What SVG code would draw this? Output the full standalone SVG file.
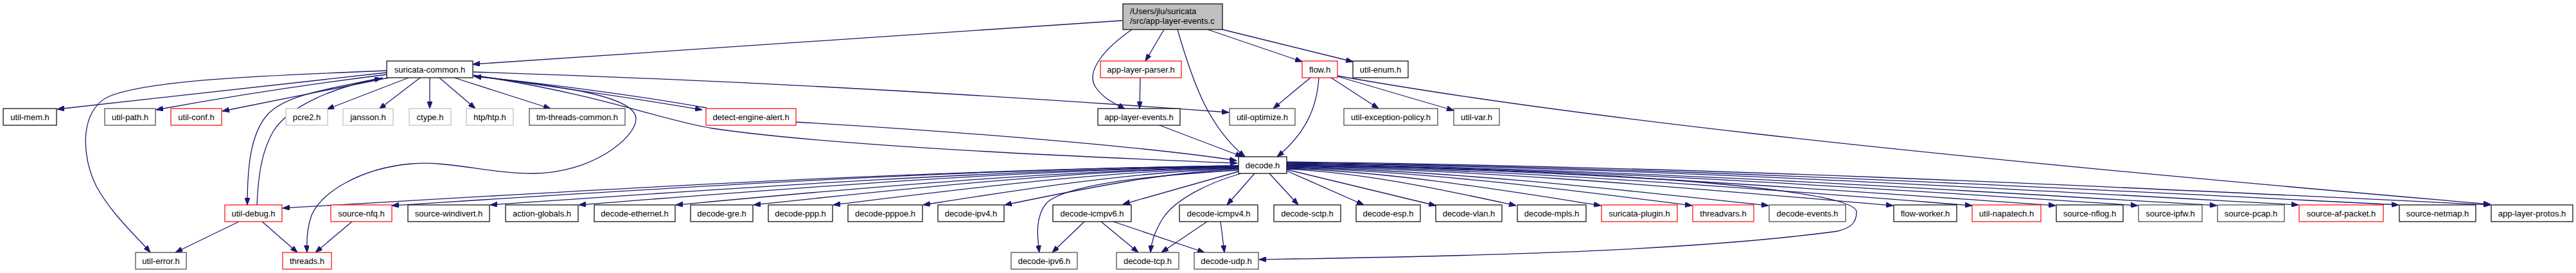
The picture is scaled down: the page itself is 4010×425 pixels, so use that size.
<svg xmlns="http://www.w3.org/2000/svg" width="4010" height="425" viewBox="0 0 4010 425">
<style>
rect{fill:#ffffff;stroke:#000000;stroke-width:1.2}
.r rect{stroke:#ff0000}
.g rect{stroke:#bfbfbf}
.d rect{stroke:#404040}
.m rect{fill:#bfbfbf}
text{font-family:"Liberation Sans",Arial,Helvetica,sans-serif;font-size:13px;fill:#000000;text-anchor:middle}
.m text{text-anchor:start}
#edges path{fill:none;stroke:#191970;stroke-width:1.3;marker-end:url(#a)}
</style>
<defs>
<marker id="a" markerWidth="11" markerHeight="8" refX="11" refY="4" orient="auto" markerUnits="userSpaceOnUse"><path d="M0,0 L11,4 L0,8 z" fill="#191970" stroke="#191970" stroke-width="1"/></marker>
</defs>
<rect x="0" y="0" width="4010" height="425" style="fill:#ffffff;stroke:none"/>
<g id="edges">
<path d="M1747,32 L736,100"/>
<path d="M1812,46 L1783,95"/>
<path d="M1762,46 C1720,75 1690,110 1705,135 C1718,155 1740,163 1751,170"/>
<path d="M1833,46 C1860,140 1885,200 1938,244"/>
<path d="M1880,46 L2027,96"/>
<path d="M1903,46 L2106,96"/>
<path d="M1775,121 L1774,169"/>
<path d="M1805,195 L1934,244"/>
<path d="M2040,121 L1982,169"/>
<path d="M2053,121 C2050,170 2030,210 1988,244"/>
<path d="M2072,121 L2146,169"/>
<path d="M2082,119 L2263,172"/>
<path d="M2082,118 C2400,175 2900,235 3877,318"/>
<path d="M1239,190 C1500,205 1800,230 1925,250"/>
<path d="M737,117 C950,150 1020,185 1110,200 C1300,228 1700,245 1926,254"/>
<path d="M737,112 Q1300,130 1913,175"/>
<path d="M737,118 C900,140 1000,155 1093,171"/>
<path d="M1100,168 C1000,150 850,130 738,119"/>
<path d="M737,118 C880,135 990,150 990,185 C990,215 920,270 830,270 C760,270 700,250 640,255 C560,262 500,300 485,335 C478,355 477,375 478,393"/>
<path d="M602,113 L89,170"/>
<path d="M602,110 C400,118 230,125 170,150 C125,170 125,240 150,290 C175,335 210,365 234,393"/>
<path d="M602,116 C450,135 330,155 243,171"/>
<path d="M605,121 L346,173"/>
<path d="M636,121 L509,170"/>
<path d="M654,121 L590,170"/>
<path d="M669,121 L669,169"/>
<path d="M684,121 L740,169"/>
<path d="M707,121 L857,169"/>
<path d="M596,121 C500,140 440,150 415,180 C390,210 385,260 385,319"/>
<path d="M400,319 C402,270 408,235 425,205 C450,165 520,135 594,122"/>
<path d="M372,345 L273,393"/>
<path d="M408,345 L463,393"/>
<path d="M548,345 L491,393"/>
<path d="M1928,258 C1407,265 886,298 440,324"/>
<path d="M1928,258 C1467,264 1005,295 610,320"/>
<path d="M1928,259 C1520,265 1113,295 763,319"/>
<path d="M1928,259 C1569,265 1209,295 901,319"/>
<path d="M1928,260 C1621,266 1315,295 1052,319"/>
<path d="M1928,260 C1664,266 1399,295 1173,319"/>
<path d="M1928,261 C1707,267 1486,296 1297,319"/>
<path d="M1928,262 C1756,268 1584,296 1437,319"/>
<path d="M1928,263 C1801,269 1673,297 1564,319"/>
<path d="M1928,267 L1748,318"/>
<path d="M1953,270 L1910,319"/>
<path d="M1976,270 L2021,319"/>
<path d="M1928,265 C1760,275 1660,290 1630,315 C1612,335 1614,365 1618,393"/>
<path d="M1932,270 C1880,285 1830,310 1810,340 C1795,365 1792,380 1791,393"/>
<path d="M1688,345 L1638,393"/>
<path d="M1714,345 L1772,393"/>
<path d="M1733,345 L1875,393"/>
<path d="M1879,345 L1808,393"/>
<path d="M1900,345 L1906,393"/>
<path d="M2003,266 L2123,319"/>
<path d="M2003,264 L2235,320"/>
<path d="M2003,263 C2128,269 2253,297 2360,320"/>
<path d="M2003,262 C2174,268 2345,297 2492,320"/>
<path d="M2003,261 C2224,267 2445,296 2634,320"/>
<path d="M2003,260 C2266,266 2528,296 2753,320"/>
<path d="M2003,259 C2333,265 2664,296 2947,320"/>
<path d="M2003,258 C2376,264 2750,295 3070,320"/>
<path d="M2003,257 C2422,263 2841,295 3200,320"/>
<path d="M2003,256 C2467,262 2931,294 3328,320"/>
<path d="M2003,255 C2510,262 3017,294 3451,320"/>
<path d="M2003,254 C2554,260 3106,293 3578,319"/>
<path d="M2003,253 C2609,260 3215,293 3734,319"/>
<path d="M2003,252 C2659,259 3315,292 3877,319"/>
<path d="M2003,258 C2400,260 2890,290 2890,330 C2890,348 2880,355 2860,360 C2600,395 2200,400 1960,404"/>
</g>
<g id="n_main" class="m"><rect x="1748" y="6" width="155" height="40"/><text x="1759" y="22">/Users/jlu/suricata</text><text x="1759" y="37">/src/app-layer-events.c</text></g>
<g id="n_sc"><rect x="602" y="95" width="134" height="26"/><text x="669" y="112.5">suricata-common.h</text></g>
<g id="n_alp" class="r"><rect x="1713" y="95" width="126" height="26"/><text x="1776" y="112.5">app-layer-parser.h</text></g>
<g id="n_flow" class="r"><rect x="2027" y="95" width="55" height="26"/><text x="2054.5" y="112.5">flow.h</text></g>
<g id="n_uenum"><rect x="2106" y="95" width="86" height="26"/><text x="2149" y="112.5">util-enum.h</text></g>
<g id="n_umem"><rect x="5" y="169" width="83" height="26"/><text x="46.5" y="186.5">util-mem.h</text></g>
<g id="n_upath" class="d"><rect x="163" y="169" width="79" height="26"/><text x="202.5" y="186.5">util-path.h</text></g>
<g id="n_uconf" class="r"><rect x="266" y="169" width="79" height="26"/><text x="305.5" y="186.5">util-conf.h</text></g>
<g id="n_pcre2" class="g"><rect x="445" y="169" width="65" height="26"/><text x="477.5" y="186.5">pcre2.h</text></g>
<g id="n_jansson" class="g"><rect x="534" y="169" width="78" height="26"/><text x="573" y="186.5">jansson.h</text></g>
<g id="n_ctype" class="g"><rect x="637" y="169" width="65" height="26"/><text x="669.5" y="186.5">ctype.h</text></g>
<g id="n_htp" class="g"><rect x="726" y="169" width="73" height="26"/><text x="762.5" y="186.5">htp/htp.h</text></g>
<g id="n_tmtc" class="d"><rect x="824" y="169" width="149" height="26"/><text x="898.5" y="186.5">tm-threads-common.h</text></g>
<g id="n_dea" class="r"><rect x="1099" y="169" width="140" height="26"/><text x="1169" y="186.5">detect-engine-alert.h</text></g>
<g id="n_ale"><rect x="1709" y="169" width="128" height="26"/><text x="1773" y="186.5">app-layer-events.h</text></g>
<g id="n_uopt" class="d"><rect x="1914" y="169" width="102" height="26"/><text x="1965" y="186.5">util-optimize.h</text></g>
<g id="n_uexc" class="d"><rect x="2092" y="169" width="146" height="26"/><text x="2165" y="186.5">util-exception-policy.h</text></g>
<g id="n_uvar" class="d"><rect x="2263" y="169" width="71" height="26"/><text x="2298.5" y="186.5">util-var.h</text></g>
<g id="n_decode"><rect x="1928" y="244" width="75" height="26"/><text x="1965.5" y="261.5">decode.h</text></g>
<g id="n_udebug" class="r"><rect x="350" y="319" width="89" height="26"/><text x="394.5" y="336.5">util-debug.h</text></g>
<g id="n_snfq" class="r"><rect x="515" y="319" width="95" height="26"/><text x="562.5" y="336.5">source-nfq.h</text></g>
<g id="n_swind"><rect x="635" y="319" width="127" height="26"/><text x="698.5" y="336.5">source-windivert.h</text></g>
<g id="n_actg"><rect x="787" y="319" width="113" height="26"/><text x="843.5" y="336.5">action-globals.h</text></g>
<g id="n_deth"><rect x="925" y="319" width="126" height="26"/><text x="988" y="336.5">decode-ethernet.h</text></g>
<g id="n_dgre"><rect x="1075" y="319" width="97" height="26"/><text x="1123.5" y="336.5">decode-gre.h</text></g>
<g id="n_dppp"><rect x="1196" y="319" width="100" height="26"/><text x="1246" y="336.5">decode-ppp.h</text></g>
<g id="n_dpppoe"><rect x="1320" y="319" width="116" height="26"/><text x="1378" y="336.5">decode-pppoe.h</text></g>
<g id="n_dipv4"><rect x="1460" y="319" width="103" height="26"/><text x="1511.5" y="336.5">decode-ipv4.h</text></g>
<g id="n_dicmp6"><rect x="1639" y="319" width="122" height="26"/><text x="1700" y="336.5">decode-icmpv6.h</text></g>
<g id="n_dicmp4"><rect x="1836" y="319" width="122" height="26"/><text x="1897" y="336.5">decode-icmpv4.h</text></g>
<g id="n_dsctp"><rect x="1983" y="319" width="104" height="26"/><text x="2035" y="336.5">decode-sctp.h</text></g>
<g id="n_desp"><rect x="2111" y="319" width="100" height="26"/><text x="2161" y="336.5">decode-esp.h</text></g>
<g id="n_dvlan"><rect x="2235" y="319" width="103" height="26"/><text x="2286.5" y="336.5">decode-vlan.h</text></g>
<g id="n_dmpls"><rect x="2362" y="319" width="107" height="26"/><text x="2415.5" y="336.5">decode-mpls.h</text></g>
<g id="n_splug" class="r"><rect x="2493" y="319" width="118" height="26"/><text x="2552" y="336.5">suricata-plugin.h</text></g>
<g id="n_tvars" class="r"><rect x="2635" y="319" width="95" height="26"/><text x="2682.5" y="336.5">threadvars.h</text></g>
<g id="n_devents" class="d"><rect x="2754" y="319" width="119" height="26"/><text x="2813.5" y="336.5">decode-events.h</text></g>
<g id="n_fworker"><rect x="2948" y="319" width="98" height="26"/><text x="2997" y="336.5">flow-worker.h</text></g>
<g id="n_unapa" class="r"><rect x="3070" y="319" width="107" height="26"/><text x="3123.5" y="336.5">util-napatech.h</text></g>
<g id="n_snflog"><rect x="3201" y="319" width="104" height="26"/><text x="3253" y="336.5">source-nflog.h</text></g>
<g id="n_sipfw" class="d"><rect x="3329" y="319" width="99" height="26"/><text x="3378.5" y="336.5">source-ipfw.h</text></g>
<g id="n_spcap" class="d"><rect x="3452" y="319" width="104" height="26"/><text x="3504" y="336.5">source-pcap.h</text></g>
<g id="n_safp" class="r"><rect x="3579" y="319" width="131" height="26"/><text x="3644.5" y="336.5">source-af-packet.h</text></g>
<g id="n_snetmap"><rect x="3735" y="319" width="119" height="26"/><text x="3794.5" y="336.5">source-netmap.h</text></g>
<g id="n_alprotos"><rect x="3878" y="319" width="127" height="26"/><text x="3941.5" y="336.5">app-layer-protos.h</text></g>
<g id="n_uerror" class="d"><rect x="211" y="393" width="79" height="26"/><text x="250.5" y="410.5">util-error.h</text></g>
<g id="n_threads" class="r"><rect x="440" y="393" width="76" height="26"/><text x="478" y="410.5">threads.h</text></g>
<g id="n_dipv6" class="d"><rect x="1574" y="393" width="103" height="26"/><text x="1625.5" y="410.5">decode-ipv6.h</text></g>
<g id="n_dtcp" class="d"><rect x="1738" y="393" width="97" height="26"/><text x="1786.5" y="410.5">decode-tcp.h</text></g>
<g id="n_dudp" class="d"><rect x="1859" y="393" width="100" height="26"/><text x="1909" y="410.5">decode-udp.h</text></g>
</svg>
